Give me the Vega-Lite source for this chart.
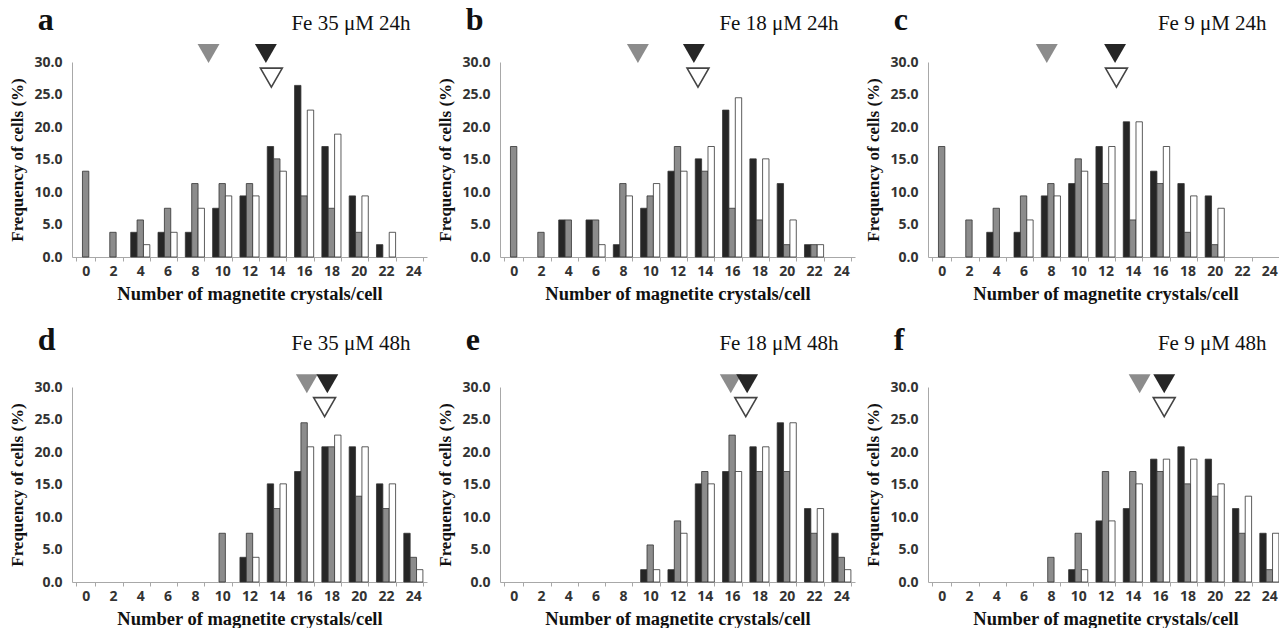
{
  "$schema": "https://vega.github.io/schema/vega-lite/v6.json",
  "background": "white",
  "padding": {"left": 8, "top": 4, "right": 0, "bottom": 0},
  "datasets": {
    "bars": [
      {"p":"a","n":0,"s":"grey","v":13.2},
      {"p":"a","n":2,"s":"grey","v":3.8},
      {"p":"a","n":4,"s":"black","v":3.8},{"p":"a","n":4,"s":"grey","v":5.7},{"p":"a","n":4,"s":"white","v":1.9},
      {"p":"a","n":6,"s":"black","v":3.8},{"p":"a","n":6,"s":"grey","v":7.5},{"p":"a","n":6,"s":"white","v":3.8},
      {"p":"a","n":8,"s":"black","v":3.8},{"p":"a","n":8,"s":"grey","v":11.3},{"p":"a","n":8,"s":"white","v":7.5},
      {"p":"a","n":10,"s":"black","v":7.5},{"p":"a","n":10,"s":"grey","v":11.3},{"p":"a","n":10,"s":"white","v":9.4},
      {"p":"a","n":12,"s":"black","v":9.4},{"p":"a","n":12,"s":"grey","v":11.3},{"p":"a","n":12,"s":"white","v":9.4},
      {"p":"a","n":14,"s":"black","v":17.0},{"p":"a","n":14,"s":"grey","v":15.1},{"p":"a","n":14,"s":"white","v":13.2},
      {"p":"a","n":16,"s":"black","v":26.4},{"p":"a","n":16,"s":"grey","v":9.4},{"p":"a","n":16,"s":"white","v":22.6},
      {"p":"a","n":18,"s":"black","v":17.0},{"p":"a","n":18,"s":"grey","v":7.5},{"p":"a","n":18,"s":"white","v":18.9},
      {"p":"a","n":20,"s":"black","v":9.4},{"p":"a","n":20,"s":"grey","v":3.8},{"p":"a","n":20,"s":"white","v":9.4},
      {"p":"a","n":22,"s":"black","v":1.9},{"p":"a","n":22,"s":"white","v":3.8},

      {"p":"b","n":0,"s":"grey","v":17.0},
      {"p":"b","n":2,"s":"grey","v":3.8},
      {"p":"b","n":4,"s":"black","v":5.7},{"p":"b","n":4,"s":"grey","v":5.7},
      {"p":"b","n":6,"s":"black","v":5.7},{"p":"b","n":6,"s":"grey","v":5.7},{"p":"b","n":6,"s":"white","v":1.9},
      {"p":"b","n":8,"s":"black","v":1.9},{"p":"b","n":8,"s":"grey","v":11.3},{"p":"b","n":8,"s":"white","v":9.4},
      {"p":"b","n":10,"s":"black","v":7.5},{"p":"b","n":10,"s":"grey","v":9.4},{"p":"b","n":10,"s":"white","v":11.3},
      {"p":"b","n":12,"s":"black","v":13.2},{"p":"b","n":12,"s":"grey","v":17.0},{"p":"b","n":12,"s":"white","v":13.2},
      {"p":"b","n":14,"s":"black","v":15.1},{"p":"b","n":14,"s":"grey","v":13.2},{"p":"b","n":14,"s":"white","v":17.0},
      {"p":"b","n":16,"s":"black","v":22.6},{"p":"b","n":16,"s":"grey","v":7.5},{"p":"b","n":16,"s":"white","v":24.5},
      {"p":"b","n":18,"s":"black","v":15.1},{"p":"b","n":18,"s":"grey","v":5.7},{"p":"b","n":18,"s":"white","v":15.1},
      {"p":"b","n":20,"s":"black","v":11.3},{"p":"b","n":20,"s":"grey","v":1.9},{"p":"b","n":20,"s":"white","v":5.7},
      {"p":"b","n":22,"s":"black","v":1.9},{"p":"b","n":22,"s":"grey","v":1.9},{"p":"b","n":22,"s":"white","v":1.9},

      {"p":"c","n":0,"s":"grey","v":17.0},
      {"p":"c","n":2,"s":"grey","v":5.7},
      {"p":"c","n":4,"s":"black","v":3.8},{"p":"c","n":4,"s":"grey","v":7.5},
      {"p":"c","n":6,"s":"black","v":3.8},{"p":"c","n":6,"s":"grey","v":9.4},{"p":"c","n":6,"s":"white","v":5.7},
      {"p":"c","n":8,"s":"black","v":9.4},{"p":"c","n":8,"s":"grey","v":11.3},{"p":"c","n":8,"s":"white","v":9.4},
      {"p":"c","n":10,"s":"black","v":11.3},{"p":"c","n":10,"s":"grey","v":15.1},{"p":"c","n":10,"s":"white","v":13.2},
      {"p":"c","n":12,"s":"black","v":17.0},{"p":"c","n":12,"s":"grey","v":11.3},{"p":"c","n":12,"s":"white","v":17.0},
      {"p":"c","n":14,"s":"black","v":20.8},{"p":"c","n":14,"s":"grey","v":5.7},{"p":"c","n":14,"s":"white","v":20.8},
      {"p":"c","n":16,"s":"black","v":13.2},{"p":"c","n":16,"s":"grey","v":11.3},{"p":"c","n":16,"s":"white","v":17.0},
      {"p":"c","n":18,"s":"black","v":11.3},{"p":"c","n":18,"s":"grey","v":3.8},{"p":"c","n":18,"s":"white","v":9.4},
      {"p":"c","n":20,"s":"black","v":9.4},{"p":"c","n":20,"s":"grey","v":1.9},{"p":"c","n":20,"s":"white","v":7.5},

      {"p":"d","n":10,"s":"grey","v":7.5},
      {"p":"d","n":12,"s":"black","v":3.8},{"p":"d","n":12,"s":"grey","v":7.5},{"p":"d","n":12,"s":"white","v":3.8},
      {"p":"d","n":14,"s":"black","v":15.1},{"p":"d","n":14,"s":"grey","v":11.3},{"p":"d","n":14,"s":"white","v":15.1},
      {"p":"d","n":16,"s":"black","v":17.0},{"p":"d","n":16,"s":"grey","v":24.5},{"p":"d","n":16,"s":"white","v":20.8},
      {"p":"d","n":18,"s":"black","v":20.8},{"p":"d","n":18,"s":"grey","v":20.8},{"p":"d","n":18,"s":"white","v":22.6},
      {"p":"d","n":20,"s":"black","v":20.8},{"p":"d","n":20,"s":"grey","v":13.2},{"p":"d","n":20,"s":"white","v":20.8},
      {"p":"d","n":22,"s":"black","v":15.1},{"p":"d","n":22,"s":"grey","v":11.3},{"p":"d","n":22,"s":"white","v":15.1},
      {"p":"d","n":24,"s":"black","v":7.5},{"p":"d","n":24,"s":"grey","v":3.8},{"p":"d","n":24,"s":"white","v":1.9},

      {"p":"e","n":10,"s":"black","v":1.9},{"p":"e","n":10,"s":"grey","v":5.7},{"p":"e","n":10,"s":"white","v":1.9},
      {"p":"e","n":12,"s":"black","v":1.9},{"p":"e","n":12,"s":"grey","v":9.4},{"p":"e","n":12,"s":"white","v":7.5},
      {"p":"e","n":14,"s":"black","v":15.1},{"p":"e","n":14,"s":"grey","v":17.0},{"p":"e","n":14,"s":"white","v":15.1},
      {"p":"e","n":16,"s":"black","v":17.0},{"p":"e","n":16,"s":"grey","v":22.6},{"p":"e","n":16,"s":"white","v":17.0},
      {"p":"e","n":18,"s":"black","v":20.8},{"p":"e","n":18,"s":"grey","v":17.0},{"p":"e","n":18,"s":"white","v":20.8},
      {"p":"e","n":20,"s":"black","v":24.5},{"p":"e","n":20,"s":"grey","v":17.0},{"p":"e","n":20,"s":"white","v":24.5},
      {"p":"e","n":22,"s":"black","v":11.3},{"p":"e","n":22,"s":"grey","v":7.5},{"p":"e","n":22,"s":"white","v":11.3},
      {"p":"e","n":24,"s":"black","v":7.5},{"p":"e","n":24,"s":"grey","v":3.8},{"p":"e","n":24,"s":"white","v":1.9},

      {"p":"f","n":8,"s":"grey","v":3.8},
      {"p":"f","n":10,"s":"black","v":1.9},{"p":"f","n":10,"s":"grey","v":7.5},{"p":"f","n":10,"s":"white","v":1.9},
      {"p":"f","n":12,"s":"black","v":9.4},{"p":"f","n":12,"s":"grey","v":17.0},{"p":"f","n":12,"s":"white","v":9.4},
      {"p":"f","n":14,"s":"black","v":11.3},{"p":"f","n":14,"s":"grey","v":17.0},{"p":"f","n":14,"s":"white","v":15.1},
      {"p":"f","n":16,"s":"black","v":18.9},{"p":"f","n":16,"s":"grey","v":17.0},{"p":"f","n":16,"s":"white","v":18.9},
      {"p":"f","n":18,"s":"black","v":20.8},{"p":"f","n":18,"s":"grey","v":15.1},{"p":"f","n":18,"s":"white","v":18.9},
      {"p":"f","n":20,"s":"black","v":18.9},{"p":"f","n":20,"s":"grey","v":13.2},{"p":"f","n":20,"s":"white","v":15.1},
      {"p":"f","n":22,"s":"black","v":11.3},{"p":"f","n":22,"s":"grey","v":7.5},{"p":"f","n":22,"s":"white","v":13.2},
      {"p":"f","n":24,"s":"black","v":7.5},{"p":"f","n":24,"s":"grey","v":1.9},{"p":"f","n":24,"s":"white","v":7.5}
    ],
    "means": [
      {"p":"a","s":"grey","m":9.0},{"p":"a","s":"black","m":13.2},{"p":"a","s":"white","m":13.6},
      {"p":"b","s":"grey","m":9.1},{"p":"b","s":"black","m":13.2},{"p":"b","s":"white","m":13.5},
      {"p":"c","s":"grey","m":7.7},{"p":"c","s":"black","m":12.7},{"p":"c","s":"white","m":12.8},
      {"p":"d","s":"grey","m":16.2},{"p":"d","s":"black","m":17.7},{"p":"d","s":"white","m":17.5},
      {"p":"e","s":"grey","m":15.9},{"p":"e","s":"black","m":17.1},{"p":"e","s":"white","m":17.0},
      {"p":"f","s":"grey","m":14.5},{"p":"f","s":"black","m":16.3},{"p":"f","s":"white","m":16.3}
    ],
    "labels": [
      {"p":"a","letter":"a","title":"Fe 35 μM 24h"},
      {"p":"b","letter":"b","title":"Fe 18 μM 24h"},
      {"p":"c","letter":"c","title":"Fe 9 μM 24h"},
      {"p":"d","letter":"d","title":"Fe 35 μM 48h"},
      {"p":"e","letter":"e","title":"Fe 18 μM 48h"},
      {"p":"f","letter":"f","title":"Fe 9 μM 48h"}
    ]
  },
  "config": {
    "view": {"stroke": null},
    "axis": {"grid": false, "domainColor": "#a8a8a8", "tickColor": "#a8a8a8", "labelFont": "Open Sans", "labelFontWeight": "bold", "labelFontSize": 14, "labelColor": "#333333", "titleFont": "Liberation Serif", "titleFontWeight": "bold", "titleColor": "#111111"},
    "axisX": {"labelAngle": 0, "tickBand": "extent", "tickSize": 4, "labelPadding": 3, "titleFontSize": 18.5, "titlePadding": 6},
    "axisY": {"ticks": false, "values": [0, 5, 10, 15, 20, 25, 30], "format": ".1f", "labelPadding": 10, "titleFontSize": 17, "titlePadding": 7},
    "text": {"font": "Liberation Serif", "color": "#111111"}
  },
  "vconcat": [
    {"hconcat": [
      {"width": 355, "height": 195, "resolve": {"scale": {"x": "independent"}}, "layer": [
        {"data": {"name": "bars"}, "transform": [{"filter": "datum.p == 'a'"}], "mark": {"type": "bar", "stroke": "#333333", "strokeWidth": 0.8},
         "encoding": {"x": {"field": "n", "type": "ordinal", "title": "Number of magnetite crystals/cell", "scale": {"domain": [0,2,4,6,8,10,12,14,16,18,20,22,24], "paddingInner": 0.3, "paddingOuter": 0.15}},
                      "xOffset": {"field": "s", "type": "nominal", "scale": {"domain": ["black","grey","white"], "paddingInner": 0}},
                      "y": {"field": "v", "type": "quantitative", "title": "Frequency of cells (%)", "scale": {"domain": [0, 30], "nice": false}},
                      "fill": {"field": "s", "type": "nominal", "scale": {"domain": ["black","grey","white"], "range": ["#262626","#8c8c8c","#ffffff"]}, "legend": null}}},
        {"data": {"name": "means"}, "transform": [{"filter": "datum.p == 'a' && datum.s != 'white'"}], "mark": {"type": "point", "shape": "triangle-down", "filled": true, "size": 480, "opacity": 1},
         "encoding": {"x": {"field": "m", "type": "quantitative", "scale": {"domain": [-1, 25], "nice": false, "zero": false}, "axis": null},
                      "y": {"datum": 31.3, "type": "quantitative", "scale": {"domain": [0, 30], "nice": false}},
                      "fill": {"field": "s", "type": "nominal", "scale": {"domain": ["black","grey","white"], "range": ["#262626","#8c8c8c","#ffffff"]}, "legend": null}}},
        {"data": {"name": "means"}, "transform": [{"filter": "datum.p == 'a' && datum.s == 'white'"}], "mark": {"type": "point", "shape": "triangle-down", "filled": true, "fill": "#ffffff", "stroke": "#444444", "strokeWidth": 1.6, "size": 480, "opacity": 1},
         "encoding": {"x": {"field": "m", "type": "quantitative", "scale": {"domain": [-1, 25], "nice": false, "zero": false}, "axis": null},
                      "y": {"datum": 27.6, "type": "quantitative", "scale": {"domain": [0, 30], "nice": false}}}},
        {"data": {"name": "labels"}, "transform": [{"filter": "datum.p == 'a'"}], "mark": {"type": "text", "align": "left", "baseline": "alphabetic", "fontSize": 32, "fontWeight": "bold"},
         "encoding": {"text": {"field": "letter"}, "x": {"datum": -3.5, "type": "quantitative", "scale": {"domain": [-1, 25], "nice": false, "zero": false}, "axis": null},
                      "y": {"datum": 34.9, "type": "quantitative", "scale": {"domain": [0, 30], "nice": false}}}},
        {"data": {"name": "labels"}, "transform": [{"filter": "datum.p == 'a'"}], "mark": {"type": "text", "align": "right", "baseline": "alphabetic", "fontSize": 21},
         "encoding": {"text": {"field": "title"}, "x": {"datum": 23.8, "type": "quantitative", "scale": {"domain": [-1, 25], "nice": false, "zero": false}, "axis": null},
                      "y": {"datum": 34.9, "type": "quantitative", "scale": {"domain": [0, 30], "nice": false}}}}
      ]},
      {"width": 355, "height": 195, "resolve": {"scale": {"x": "independent"}}, "layer": [
        {"data": {"name": "bars"}, "transform": [{"filter": "datum.p == 'b'"}], "mark": {"type": "bar", "stroke": "#333333", "strokeWidth": 0.8},
         "encoding": {"x": {"field": "n", "type": "ordinal", "title": "Number of magnetite crystals/cell", "scale": {"domain": [0,2,4,6,8,10,12,14,16,18,20,22,24], "paddingInner": 0.3, "paddingOuter": 0.15}},
                      "xOffset": {"field": "s", "type": "nominal", "scale": {"domain": ["black","grey","white"], "paddingInner": 0}},
                      "y": {"field": "v", "type": "quantitative", "title": "Frequency of cells (%)", "scale": {"domain": [0, 30], "nice": false}},
                      "fill": {"field": "s", "type": "nominal", "scale": {"domain": ["black","grey","white"], "range": ["#262626","#8c8c8c","#ffffff"]}, "legend": null}}},
        {"data": {"name": "means"}, "transform": [{"filter": "datum.p == 'b' && datum.s != 'white'"}], "mark": {"type": "point", "shape": "triangle-down", "filled": true, "size": 480, "opacity": 1},
         "encoding": {"x": {"field": "m", "type": "quantitative", "scale": {"domain": [-1, 25], "nice": false, "zero": false}, "axis": null},
                      "y": {"datum": 31.3, "type": "quantitative", "scale": {"domain": [0, 30], "nice": false}},
                      "fill": {"field": "s", "type": "nominal", "scale": {"domain": ["black","grey","white"], "range": ["#262626","#8c8c8c","#ffffff"]}, "legend": null}}},
        {"data": {"name": "means"}, "transform": [{"filter": "datum.p == 'b' && datum.s == 'white'"}], "mark": {"type": "point", "shape": "triangle-down", "filled": true, "fill": "#ffffff", "stroke": "#444444", "strokeWidth": 1.6, "size": 480, "opacity": 1},
         "encoding": {"x": {"field": "m", "type": "quantitative", "scale": {"domain": [-1, 25], "nice": false, "zero": false}, "axis": null},
                      "y": {"datum": 27.6, "type": "quantitative", "scale": {"domain": [0, 30], "nice": false}}}},
        {"data": {"name": "labels"}, "transform": [{"filter": "datum.p == 'b'"}], "mark": {"type": "text", "align": "left", "baseline": "alphabetic", "fontSize": 32, "fontWeight": "bold"},
         "encoding": {"text": {"field": "letter"}, "x": {"datum": -3.5, "type": "quantitative", "scale": {"domain": [-1, 25], "nice": false, "zero": false}, "axis": null},
                      "y": {"datum": 34.9, "type": "quantitative", "scale": {"domain": [0, 30], "nice": false}}}},
        {"data": {"name": "labels"}, "transform": [{"filter": "datum.p == 'b'"}], "mark": {"type": "text", "align": "right", "baseline": "alphabetic", "fontSize": 21},
         "encoding": {"text": {"field": "title"}, "x": {"datum": 23.8, "type": "quantitative", "scale": {"domain": [-1, 25], "nice": false, "zero": false}, "axis": null},
                      "y": {"datum": 34.9, "type": "quantitative", "scale": {"domain": [0, 30], "nice": false}}}}
      ]},
      {"width": 355, "height": 195, "resolve": {"scale": {"x": "independent"}}, "layer": [
        {"data": {"name": "bars"}, "transform": [{"filter": "datum.p == 'c'"}], "mark": {"type": "bar", "stroke": "#333333", "strokeWidth": 0.8},
         "encoding": {"x": {"field": "n", "type": "ordinal", "title": "Number of magnetite crystals/cell", "scale": {"domain": [0,2,4,6,8,10,12,14,16,18,20,22,24], "paddingInner": 0.3, "paddingOuter": 0.15}},
                      "xOffset": {"field": "s", "type": "nominal", "scale": {"domain": ["black","grey","white"], "paddingInner": 0}},
                      "y": {"field": "v", "type": "quantitative", "title": "Frequency of cells (%)", "scale": {"domain": [0, 30], "nice": false}},
                      "fill": {"field": "s", "type": "nominal", "scale": {"domain": ["black","grey","white"], "range": ["#262626","#8c8c8c","#ffffff"]}, "legend": null}}},
        {"data": {"name": "means"}, "transform": [{"filter": "datum.p == 'c' && datum.s != 'white'"}], "mark": {"type": "point", "shape": "triangle-down", "filled": true, "size": 480, "opacity": 1},
         "encoding": {"x": {"field": "m", "type": "quantitative", "scale": {"domain": [-1, 25], "nice": false, "zero": false}, "axis": null},
                      "y": {"datum": 31.3, "type": "quantitative", "scale": {"domain": [0, 30], "nice": false}},
                      "fill": {"field": "s", "type": "nominal", "scale": {"domain": ["black","grey","white"], "range": ["#262626","#8c8c8c","#ffffff"]}, "legend": null}}},
        {"data": {"name": "means"}, "transform": [{"filter": "datum.p == 'c' && datum.s == 'white'"}], "mark": {"type": "point", "shape": "triangle-down", "filled": true, "fill": "#ffffff", "stroke": "#444444", "strokeWidth": 1.6, "size": 480, "opacity": 1},
         "encoding": {"x": {"field": "m", "type": "quantitative", "scale": {"domain": [-1, 25], "nice": false, "zero": false}, "axis": null},
                      "y": {"datum": 27.6, "type": "quantitative", "scale": {"domain": [0, 30], "nice": false}}}},
        {"data": {"name": "labels"}, "transform": [{"filter": "datum.p == 'c'"}], "mark": {"type": "text", "align": "left", "baseline": "alphabetic", "fontSize": 32, "fontWeight": "bold"},
         "encoding": {"text": {"field": "letter"}, "x": {"datum": -3.5, "type": "quantitative", "scale": {"domain": [-1, 25], "nice": false, "zero": false}, "axis": null},
                      "y": {"datum": 34.9, "type": "quantitative", "scale": {"domain": [0, 30], "nice": false}}}},
        {"data": {"name": "labels"}, "transform": [{"filter": "datum.p == 'c'"}], "mark": {"type": "text", "align": "right", "baseline": "alphabetic", "fontSize": 21},
         "encoding": {"text": {"field": "title"}, "x": {"datum": 23.8, "type": "quantitative", "scale": {"domain": [-1, 25], "nice": false, "zero": false}, "axis": null},
                      "y": {"datum": 34.9, "type": "quantitative", "scale": {"domain": [0, 30], "nice": false}}}}
      ]}
    ], "spacing": 73, "bounds": "flush"},
    {"hconcat": [
      {"width": 355, "height": 195, "resolve": {"scale": {"x": "independent"}}, "layer": [
        {"data": {"name": "bars"}, "transform": [{"filter": "datum.p == 'd'"}], "mark": {"type": "bar", "stroke": "#333333", "strokeWidth": 0.8},
         "encoding": {"x": {"field": "n", "type": "ordinal", "title": "Number of magnetite crystals/cell", "scale": {"domain": [0,2,4,6,8,10,12,14,16,18,20,22,24], "paddingInner": 0.3, "paddingOuter": 0.15}},
                      "xOffset": {"field": "s", "type": "nominal", "scale": {"domain": ["black","grey","white"], "paddingInner": 0}},
                      "y": {"field": "v", "type": "quantitative", "title": "Frequency of cells (%)", "scale": {"domain": [0, 30], "nice": false}},
                      "fill": {"field": "s", "type": "nominal", "scale": {"domain": ["black","grey","white"], "range": ["#262626","#8c8c8c","#ffffff"]}, "legend": null}}},
        {"data": {"name": "means"}, "transform": [{"filter": "datum.p == 'd' && datum.s != 'white'"}], "mark": {"type": "point", "shape": "triangle-down", "filled": true, "size": 480, "opacity": 1},
         "encoding": {"x": {"field": "m", "type": "quantitative", "scale": {"domain": [-1, 25], "nice": false, "zero": false}, "axis": null},
                      "y": {"datum": 30.5, "type": "quantitative", "scale": {"domain": [0, 30], "nice": false}},
                      "fill": {"field": "s", "type": "nominal", "scale": {"domain": ["black","grey","white"], "range": ["#262626","#8c8c8c","#ffffff"]}, "legend": null}}},
        {"data": {"name": "means"}, "transform": [{"filter": "datum.p == 'd' && datum.s == 'white'"}], "mark": {"type": "point", "shape": "triangle-down", "filled": true, "fill": "#ffffff", "stroke": "#444444", "strokeWidth": 1.6, "size": 480, "opacity": 1},
         "encoding": {"x": {"field": "m", "type": "quantitative", "scale": {"domain": [-1, 25], "nice": false, "zero": false}, "axis": null},
                      "y": {"datum": 26.9, "type": "quantitative", "scale": {"domain": [0, 30], "nice": false}}}},
        {"data": {"name": "labels"}, "transform": [{"filter": "datum.p == 'd'"}], "mark": {"type": "text", "align": "left", "baseline": "alphabetic", "fontSize": 32, "fontWeight": "bold"},
         "encoding": {"text": {"field": "letter"}, "x": {"datum": -3.5, "type": "quantitative", "scale": {"domain": [-1, 25], "nice": false, "zero": false}, "axis": null},
                      "y": {"datum": 35.7, "type": "quantitative", "scale": {"domain": [0, 30], "nice": false}}}},
        {"data": {"name": "labels"}, "transform": [{"filter": "datum.p == 'd'"}], "mark": {"type": "text", "align": "right", "baseline": "alphabetic", "fontSize": 21},
         "encoding": {"text": {"field": "title"}, "x": {"datum": 23.8, "type": "quantitative", "scale": {"domain": [-1, 25], "nice": false, "zero": false}, "axis": null},
                      "y": {"datum": 35.7, "type": "quantitative", "scale": {"domain": [0, 30], "nice": false}}}}
      ]},
      {"width": 355, "height": 195, "resolve": {"scale": {"x": "independent"}}, "layer": [
        {"data": {"name": "bars"}, "transform": [{"filter": "datum.p == 'e'"}], "mark": {"type": "bar", "stroke": "#333333", "strokeWidth": 0.8},
         "encoding": {"x": {"field": "n", "type": "ordinal", "title": "Number of magnetite crystals/cell", "scale": {"domain": [0,2,4,6,8,10,12,14,16,18,20,22,24], "paddingInner": 0.3, "paddingOuter": 0.15}},
                      "xOffset": {"field": "s", "type": "nominal", "scale": {"domain": ["black","grey","white"], "paddingInner": 0}},
                      "y": {"field": "v", "type": "quantitative", "title": "Frequency of cells (%)", "scale": {"domain": [0, 30], "nice": false}},
                      "fill": {"field": "s", "type": "nominal", "scale": {"domain": ["black","grey","white"], "range": ["#262626","#8c8c8c","#ffffff"]}, "legend": null}}},
        {"data": {"name": "means"}, "transform": [{"filter": "datum.p == 'e' && datum.s != 'white'"}], "mark": {"type": "point", "shape": "triangle-down", "filled": true, "size": 480, "opacity": 1},
         "encoding": {"x": {"field": "m", "type": "quantitative", "scale": {"domain": [-1, 25], "nice": false, "zero": false}, "axis": null},
                      "y": {"datum": 30.5, "type": "quantitative", "scale": {"domain": [0, 30], "nice": false}},
                      "fill": {"field": "s", "type": "nominal", "scale": {"domain": ["black","grey","white"], "range": ["#262626","#8c8c8c","#ffffff"]}, "legend": null}}},
        {"data": {"name": "means"}, "transform": [{"filter": "datum.p == 'e' && datum.s == 'white'"}], "mark": {"type": "point", "shape": "triangle-down", "filled": true, "fill": "#ffffff", "stroke": "#444444", "strokeWidth": 1.6, "size": 480, "opacity": 1},
         "encoding": {"x": {"field": "m", "type": "quantitative", "scale": {"domain": [-1, 25], "nice": false, "zero": false}, "axis": null},
                      "y": {"datum": 26.9, "type": "quantitative", "scale": {"domain": [0, 30], "nice": false}}}},
        {"data": {"name": "labels"}, "transform": [{"filter": "datum.p == 'e'"}], "mark": {"type": "text", "align": "left", "baseline": "alphabetic", "fontSize": 32, "fontWeight": "bold"},
         "encoding": {"text": {"field": "letter"}, "x": {"datum": -3.5, "type": "quantitative", "scale": {"domain": [-1, 25], "nice": false, "zero": false}, "axis": null},
                      "y": {"datum": 35.7, "type": "quantitative", "scale": {"domain": [0, 30], "nice": false}}}},
        {"data": {"name": "labels"}, "transform": [{"filter": "datum.p == 'e'"}], "mark": {"type": "text", "align": "right", "baseline": "alphabetic", "fontSize": 21},
         "encoding": {"text": {"field": "title"}, "x": {"datum": 23.8, "type": "quantitative", "scale": {"domain": [-1, 25], "nice": false, "zero": false}, "axis": null},
                      "y": {"datum": 35.7, "type": "quantitative", "scale": {"domain": [0, 30], "nice": false}}}}
      ]},
      {"width": 355, "height": 195, "resolve": {"scale": {"x": "independent"}}, "layer": [
        {"data": {"name": "bars"}, "transform": [{"filter": "datum.p == 'f'"}], "mark": {"type": "bar", "stroke": "#333333", "strokeWidth": 0.8},
         "encoding": {"x": {"field": "n", "type": "ordinal", "title": "Number of magnetite crystals/cell", "scale": {"domain": [0,2,4,6,8,10,12,14,16,18,20,22,24], "paddingInner": 0.3, "paddingOuter": 0.15}},
                      "xOffset": {"field": "s", "type": "nominal", "scale": {"domain": ["black","grey","white"], "paddingInner": 0}},
                      "y": {"field": "v", "type": "quantitative", "title": "Frequency of cells (%)", "scale": {"domain": [0, 30], "nice": false}},
                      "fill": {"field": "s", "type": "nominal", "scale": {"domain": ["black","grey","white"], "range": ["#262626","#8c8c8c","#ffffff"]}, "legend": null}}},
        {"data": {"name": "means"}, "transform": [{"filter": "datum.p == 'f' && datum.s != 'white'"}], "mark": {"type": "point", "shape": "triangle-down", "filled": true, "size": 480, "opacity": 1},
         "encoding": {"x": {"field": "m", "type": "quantitative", "scale": {"domain": [-1, 25], "nice": false, "zero": false}, "axis": null},
                      "y": {"datum": 30.5, "type": "quantitative", "scale": {"domain": [0, 30], "nice": false}},
                      "fill": {"field": "s", "type": "nominal", "scale": {"domain": ["black","grey","white"], "range": ["#262626","#8c8c8c","#ffffff"]}, "legend": null}}},
        {"data": {"name": "means"}, "transform": [{"filter": "datum.p == 'f' && datum.s == 'white'"}], "mark": {"type": "point", "shape": "triangle-down", "filled": true, "fill": "#ffffff", "stroke": "#444444", "strokeWidth": 1.6, "size": 480, "opacity": 1},
         "encoding": {"x": {"field": "m", "type": "quantitative", "scale": {"domain": [-1, 25], "nice": false, "zero": false}, "axis": null},
                      "y": {"datum": 26.9, "type": "quantitative", "scale": {"domain": [0, 30], "nice": false}}}},
        {"data": {"name": "labels"}, "transform": [{"filter": "datum.p == 'f'"}], "mark": {"type": "text", "align": "left", "baseline": "alphabetic", "fontSize": 32, "fontWeight": "bold"},
         "encoding": {"text": {"field": "letter"}, "x": {"datum": -3.5, "type": "quantitative", "scale": {"domain": [-1, 25], "nice": false, "zero": false}, "axis": null},
                      "y": {"datum": 35.7, "type": "quantitative", "scale": {"domain": [0, 30], "nice": false}}}},
        {"data": {"name": "labels"}, "transform": [{"filter": "datum.p == 'f'"}], "mark": {"type": "text", "align": "right", "baseline": "alphabetic", "fontSize": 21},
         "encoding": {"text": {"field": "title"}, "x": {"datum": 23.8, "type": "quantitative", "scale": {"domain": [-1, 25], "nice": false, "zero": false}, "axis": null},
                      "y": {"datum": 35.7, "type": "quantitative", "scale": {"domain": [0, 30], "nice": false}}}}
      ]}
    ], "spacing": 73, "bounds": "flush"}
  ],
  "spacing": 325,
  "bounds": "flush"
}
